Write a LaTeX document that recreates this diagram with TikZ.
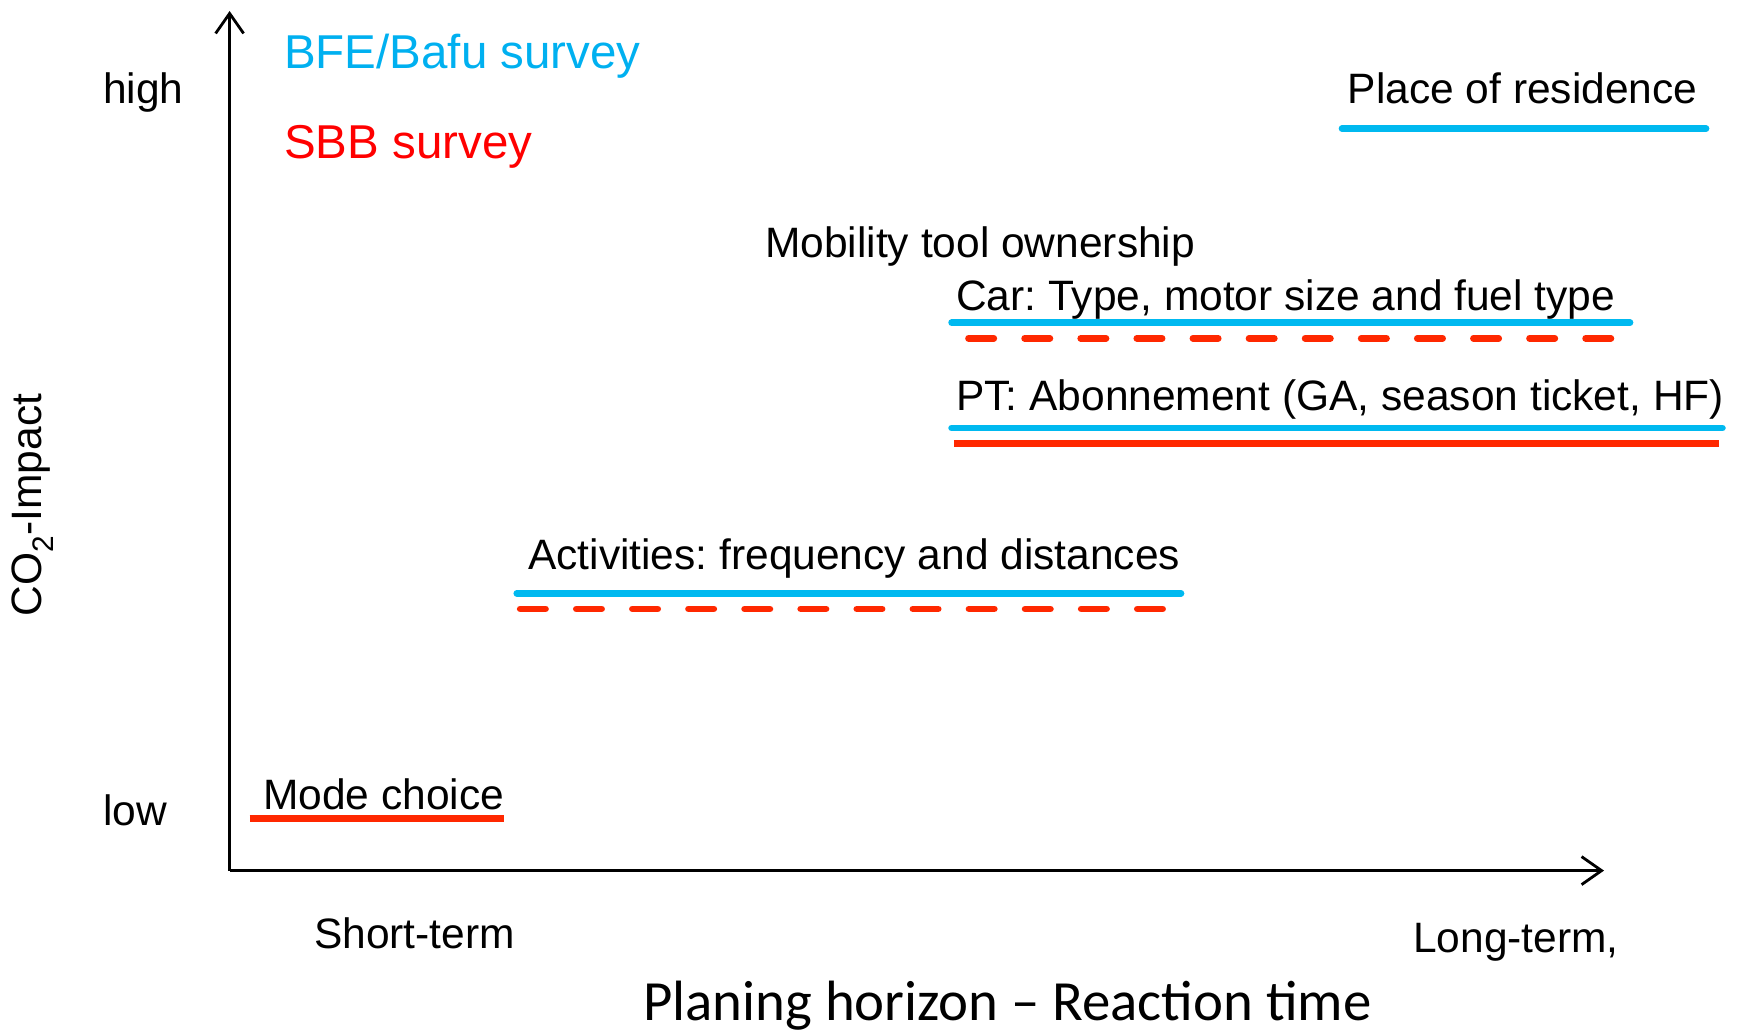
\documentclass[tikz,border=0pt]{standalone}
\usepackage{fontspec}
\setmainfont{Liberation Sans}
\newfontfamily\calfont{Carlito}
\usetikzlibrary{arrows.meta}
\definecolor{surveyblue}{RGB}{0,176,240}
\definecolor{surveyred}{RGB}{255,0,0}
\definecolor{lineblue}{RGB}{0,185,240}
\definecolor{linered}{RGB}{255,40,0}
\frenchspacing
\tikzset{
  lbl/.style={anchor=base west, inner sep=0pt, font=\fontsize{42.5}{50}\selectfont},
  legend/.style={anchor=base west, inner sep=0pt, font=\fontsize{47.5}{56}\selectfont},
  axis/.style={line width=2.5pt, -{Straight Barb[length=20pt,width=28pt,line width=2.8pt]}},
  bfe/.style={line width=6.7pt, lineblue, line cap=round},
  sbbsolid/.style={line width=6.7pt, linered, line cap=butt},
  sbbdash/.style={line width=6.7pt, linered, line cap=round, dash pattern=on 25.3pt off 30.8pt},
}
\begin{document}
\begin{tikzpicture}[x=1pt,y=-1pt]
\useasboundingbox (0,0) rectangle (1739,1033);

% axes
\coordinate (origin) at (229.6,870.6);
\coordinate (ytip) at (229.6,11);
\coordinate (xtip) at (1604,870.6);
\draw[axis] (origin) -- (ytip);
\draw[axis] (origin) -- (xtip);

% axis labels
\node[lbl] (high) at (103,103) {high};
\node[lbl] (low) at (103,825) {low};
\node[lbl] (short) at (314,948) {Short-term};
\node[lbl] (long) at (1413,952) {Long-term,};
\node[anchor=base west, inner sep=0pt, font=\calfont\fontsize{56.8}{64}\selectfont] (xtitle) at (643,1020) {Planing horizon – Reaction time};
\node[rotate=90, inner sep=0pt, font=\fontsize{42.5}{50}\selectfont] (ytitle) at (33,505) {CO\textsubscript{2}-Impact};

% legend
\node[legend, text=surveyblue] (bfe) at (284,69) {BFE/Bafu survey};
\node[legend, text=surveyred] (sbb) at (284,158.6) {SBB survey};

% decisions
\node[lbl] (residence) at (1347.5,103) {Place of residence};
\coordinate (resA) at (1342,128.6);
\coordinate (resB) at (1706,128.6);
\draw[bfe] (resA) -- (resB);

\node[lbl] (mobility) at (765,257) {Mobility tool ownership};

\node[lbl] (car) at (956,310.5) {Car: Type, motor size and fuel type};
\coordinate (carA) at (951.6,322.7);
\coordinate (carB) at (1630,322.7);
\coordinate (carC) at (968.5,338.3);
\coordinate (carD) at (1630,338.3);
\draw[bfe] (carA) -- (carB);
\draw[sbbdash] (carC) -- (carD);

\node[lbl] (pt) at (956,410) {PT: Abonnement (GA, season ticket, HF)};
\coordinate (ptA) at (951.6,428);
\coordinate (ptB) at (1722.4,428);
\coordinate (ptC) at (953.8,443.6);
\coordinate (ptD) at (1719,443.6);
\draw[bfe] (ptA) -- (ptB);
\draw[sbbsolid] (ptC) -- (ptD);

\node[lbl] (act) at (528,569) {Activities: frequency and distances};
\coordinate (actA) at (516.8,593.3);
\coordinate (actB) at (1181,593.3);
\coordinate (actC) at (520.2,608.9);
\coordinate (actD) at (1180,608.9);
\draw[bfe] (actA) -- (actB);
\draw[sbbdash] (actC) -- (actD);

\node[lbl] (mode) at (263,809.6) {Mode choice};
\coordinate (modeA) at (249.5,818.5);
\coordinate (modeB) at (503.5,818.5);
\draw[sbbsolid] (modeA) -- (modeB);
\end{tikzpicture}
\end{document}
